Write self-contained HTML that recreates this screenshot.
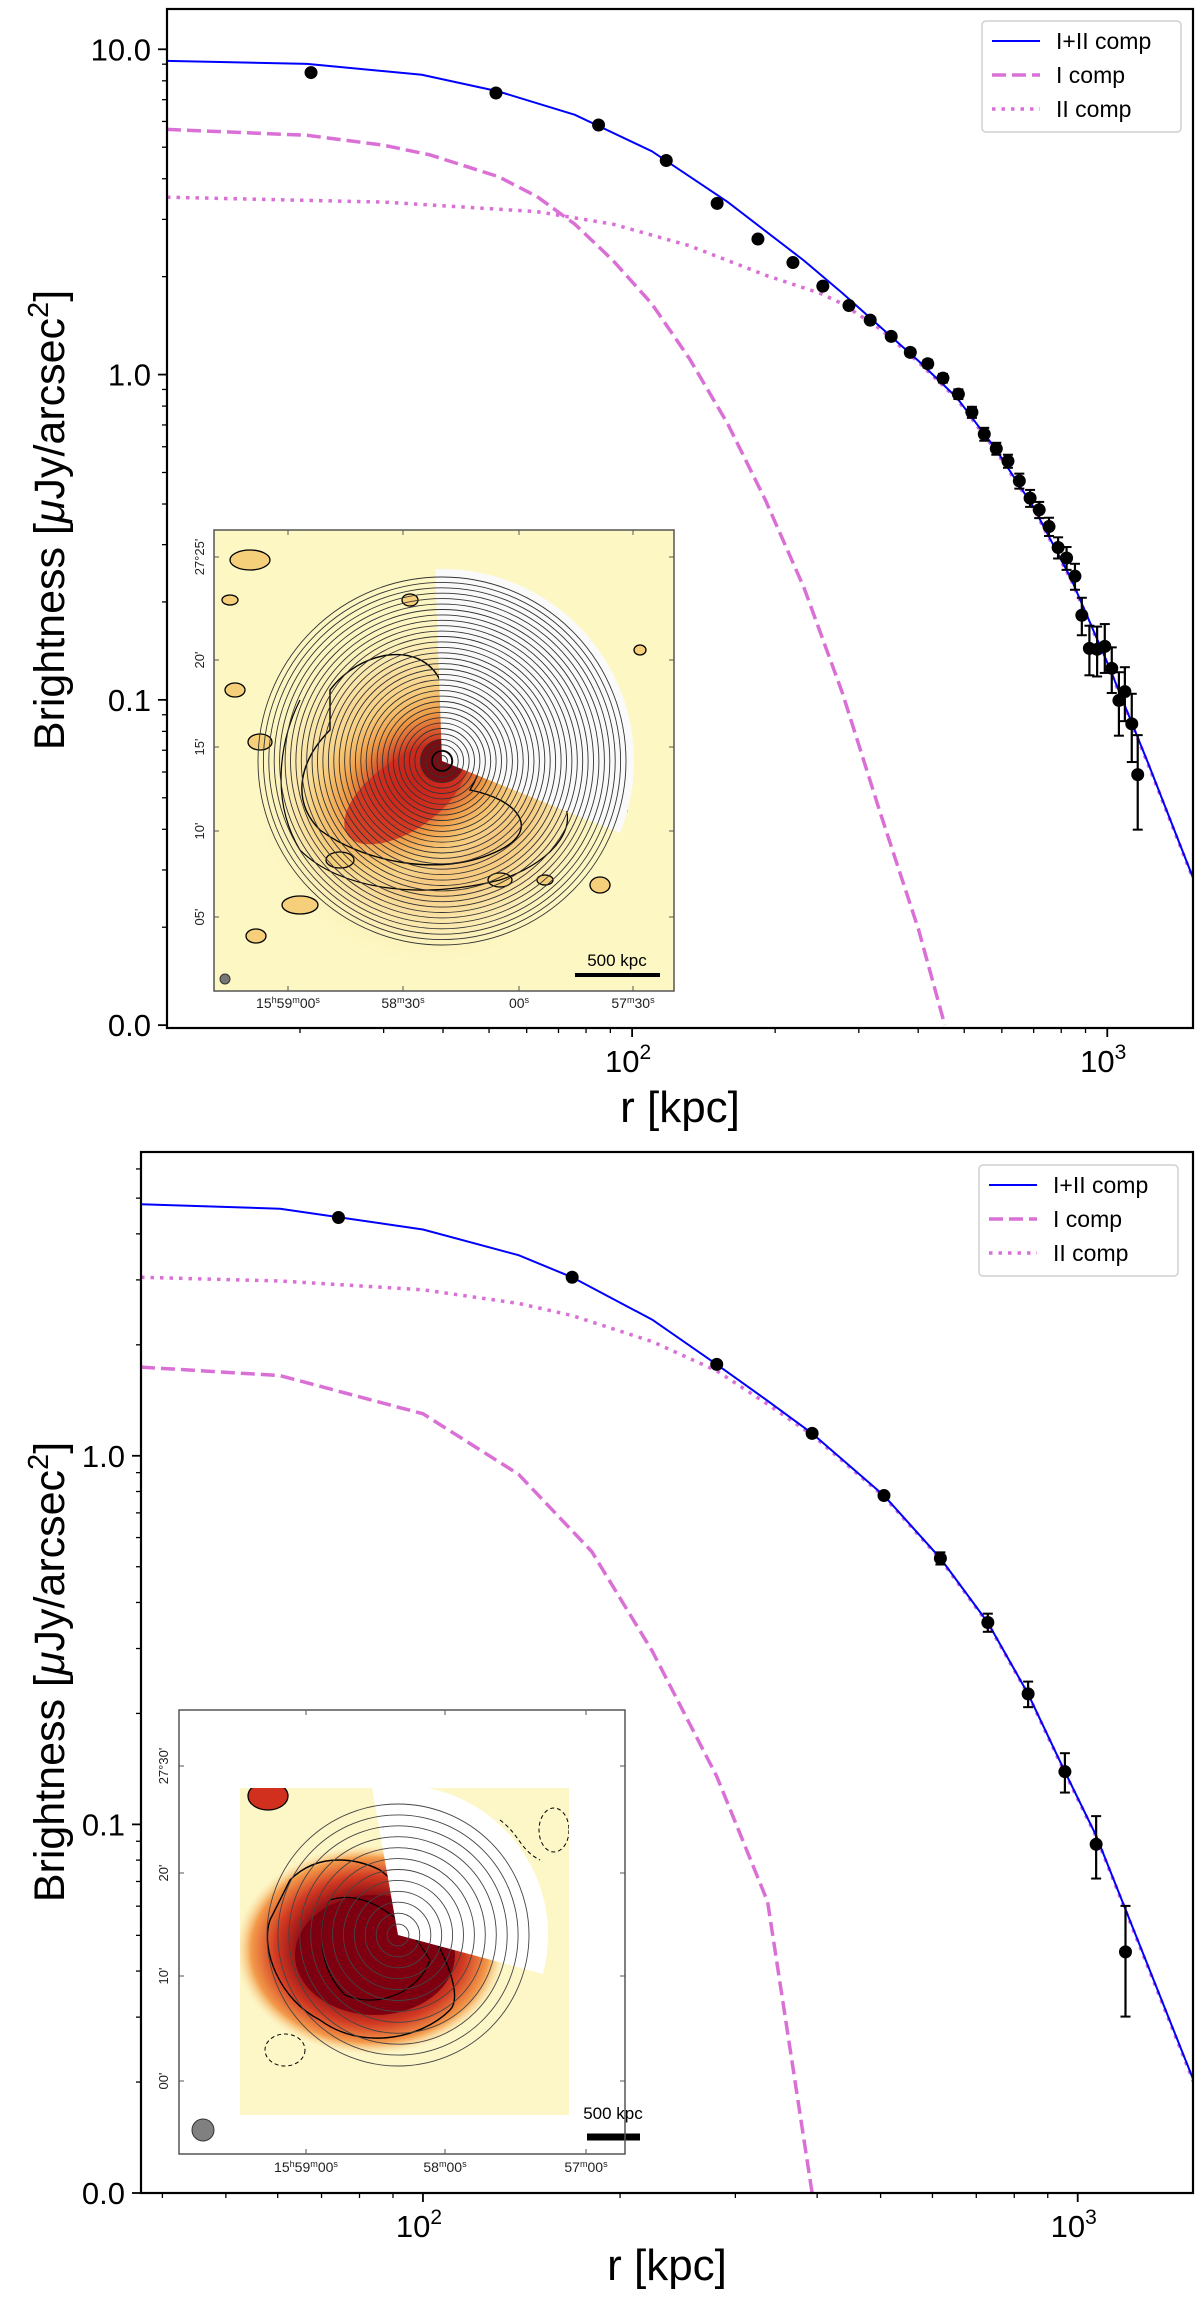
<!DOCTYPE html>
<html><head><meta charset="utf-8">
<style>
html,body{margin:0;padding:0;background:#fff;}
svg{display:block;font-family:"Liberation Sans","DejaVu Sans",sans-serif;}
</style></head>
<body>
<svg id="fig" width="1200" height="2306" viewBox="0 0 1200 2306" xmlns="http://www.w3.org/2000/svg">
<defs>
  <clipPath id="clipTop"><rect x="167" y="9" width="1026" height="1019"/></clipPath>
  <clipPath id="clipBot"><rect x="141" y="1152" width="1052" height="1041"/></clipPath>
  <clipPath id="clipInsetTop"><rect x="214" y="530" width="460" height="461"/></clipPath>
  <clipPath id="clipInsetBot"><rect x="240" y="1788" width="329" height="327"/></clipPath>
  <radialGradient id="gTop" cx="0.5" cy="0.5" r="0.5">
    <stop offset="0" stop-color="#8b0a0a"/>
    <stop offset="0.25" stop-color="#c8281c"/>
    <stop offset="0.55" stop-color="#ee9a45"/>
    <stop offset="0.8" stop-color="#f7cf7c" stop-opacity="0.7"/>
    <stop offset="1" stop-color="#fdf3bd" stop-opacity="0"/>
  </radialGradient>
  <radialGradient id="gTopWide" cx="0.5" cy="0.5" r="0.5">
    <stop offset="0" stop-color="#f0a050"/>
    <stop offset="0.6" stop-color="#f6c77a"/>
    <stop offset="1" stop-color="#fdf3bd" stop-opacity="0"/>
  </radialGradient>
  <radialGradient id="gBot" cx="0.5" cy="0.5" r="0.5">
    <stop offset="0" stop-color="#7e0010"/>
    <stop offset="0.5" stop-color="#8a0a14"/>
    <stop offset="0.7" stop-color="#d23a22"/>
    <stop offset="0.88" stop-color="#f39a4a"/>
    <stop offset="1" stop-color="#fbe0a0" stop-opacity="0"/>
  </radialGradient>
</defs>
</svg>
<script>
// ---------- TOP PANEL DATA ----------
const topPointR = [21.1,51.7,85,118,151,184,218,252,286,317,351,385,419,451,486,519,551,584,618,653,688,719,754,788,821,855,884,917,952,988,1022,1058,1089,1126,1159];
const topPointB = [8.48,7.34,5.85,4.55,3.36,2.61,2.21,1.87,1.63,1.47,1.31,1.17,1.08,0.975,0.871,0.766,0.656,0.592,0.542,0.471,0.417,0.384,0.341,0.294,0.273,0.240,0.182,0.144,0.143,0.146,0.125,0.0996,0.106,0.0844,0.0589];
const topPointErr = [0.1,0.1,0.08,0.06,0.05,0.04,0.035,0.03,0.03,0.03,0.03,0.03,0.03,0.03,0.03,0.03,0.03,0.025,0.025,0.025,0.025,0.022,0.022,0.022,0.022,0.022,0.024,0.025,0.025,0.025,0.02,0.022,0.02,0.02,0.019];
const topTotR = [10.5,20.7,36.1,52.3,75.8,110,159,230,277,333,401,482,580,698,840,1012,1218,1515];
const topTotB = [9.21,9.02,8.35,7.42,6.29,4.86,3.39,2.24,1.78,1.40,1.10,0.85,0.595,0.393,0.235,0.125,0.064,0.0284];
const topIR = [10.5,20.7,30.0,37.5,52.3,63.0,75.8,91.2,110,132,159,191,230,277,333,401,455];
const topIB = [5.67,5.44,5.07,4.74,4.06,3.53,2.90,2.24,1.65,1.12,0.705,0.410,0.221,0.105,0.0448,0.0196,0.010];
const topIIR = [10.5,30.0,63.0,91.2,132,191,248,277,333,401,482,580,698,840,1012,1218,1515];
const topIIB = [3.51,3.39,3.17,2.90,2.49,2.02,1.78,1.65,1.38,1.09,0.843,0.589,0.390,0.233,0.124,0.0635,0.0282];
const topYTicks = [10,1,0.1,0.01];
const topYTickLabels = ["10.0","1.0","0.1","0.0"];
const xTickVals = [100,1000];

// ---------- BOTTOM PANEL DATA ----------
const botPointR = [74.3,169,281,393,506,617,729,840,956,1067,1183];
const botPointB = [4.43,3.05,1.77,1.15,0.780,0.527,0.353,0.226,0.139,0.0883,0.0451];
const botPointErr = [0.03,0.03,0.02,0.015,0.015,0.02,0.02,0.018,0.017,0.017,0.015];
const botTotR = [37.1,60.5,100,140,169,224,281,336,393,506,617,729,840,956,1067,1503];
const botTotB = [4.81,4.68,4.11,3.50,3.05,2.34,1.77,1.41,1.15,0.780,0.527,0.353,0.226,0.139,0.0933,0.0202];
const botIR = [37.1,60.5,100,140,181,224,281,336,393];
const botIB = [1.74,1.65,1.30,0.891,0.550,0.295,0.135,0.0617,0.010];
const botIIR = [37.1,60.5,100,140,169,224,281,336,393,506,617,729,840,956,1067,1503];
const botIIB = [3.05,2.98,2.82,2.59,2.40,2.04,1.70,1.38,1.14,0.775,0.524,0.351,0.225,0.138,0.0928,0.0200];
const botYTicks = [1,0.1,0.01];
const botYTickLabels = ["1.0","0.1","0.0"];

const NS = "http://www.w3.org/2000/svg";
const svg = document.getElementById('fig');
function el(tag, attrs, parent){
  const e = document.createElementNS(NS, tag);
  for (const k in attrs) e.setAttribute(k, attrs[k]);
  (parent||svg).appendChild(e);
  return e;
}
function makeScale(d0,d1,p0,p1){
  const l0=Math.log10(d0), l1=Math.log10(d1);
  return v => p0 + (Math.log10(v)-l0)/(l1-l0)*(p1-p0);
}

function drawPanel(cfg){
  const g = el('g', {});
  
  
  const X = makeScale(cfg.xmin, cfg.xmax, cfg.L, cfg.R);
  const Y = makeScale(cfg.ymin, cfg.ymax, cfg.B, cfg.T);
  cfg.inset(g);
  const plot = el('g', {'clip-path':'url(#'+cfg.clip+')'}, g);
  function line(rs, bs, attrs, name){
    let d='';
    rs.forEach((r,i)=>{ d += (i?'L':'M') + X(r).toFixed(1)+','+Y(bs[i]).toFixed(1); });
    const p = el('path', Object.assign({d:d, fill:'none'}, attrs), plot);
    
    
  }
  line(cfg.IIR, cfg.IIB, {stroke:'#da70d6','stroke-width':3.5,'stroke-dasharray':'3.5,6'}, 'ii-comp-line');
  line(cfg.IR, cfg.IB, {stroke:'#da70d6','stroke-width':3.5,'stroke-dasharray':'14,6'}, 'i-comp-line');
  line(cfg.totR, cfg.totB, {stroke:'#0000ff','stroke-width':2}, 'total-comp-line');
  const pts = el('g', {}, plot);
  
  
  cfg.pR.forEach((r,i)=>{
    const x=X(r), b=cfg.pB[i], e=cfg.pE[i];
    const y1=Y(b+e), y2=Y(Math.max(b-e,1e-4));
    el('line',{x1:x,x2:x,y1:y1,y2:y2,stroke:'#000','stroke-width':2.2},pts);
    el('line',{x1:x-5,x2:x+5,y1:y1,y2:y1,stroke:'#000','stroke-width':2},pts);
    el('line',{x1:x-5,x2:x+5,y1:y2,y2:y2,stroke:'#000','stroke-width':2},pts);
    const c = el('circle',{cx:x,cy:Y(b),r:6.5,fill:'#000'},pts);
    
    
  });
  const fr = el('rect',{x:cfg.L,y:cfg.T,width:cfg.R-cfg.L,height:cfg.B-cfg.T,fill:'none',stroke:'#000','stroke-width':2.2},g);
  
  
  const ya = el('g',{},g);
  
  
  cfg.yTicks.forEach((v,i)=>{
    const y=Y(v);
    el('line',{x1:cfg.L-9,x2:cfg.L,y1:y,y2:y,stroke:'#000','stroke-width':1.8},ya);
    const t=el('text',{x:cfg.L-16,y:y+11,'text-anchor':'end','font-size':31,fill:'#000'},ya);
    t.textContent=cfg.yTickLabels[i];
    
    
  });
  for(let dec=-3; dec<=1; dec++){
    for(let m=2;m<=9;m++){
      const v=m*Math.pow(10,dec);
      if(v<=cfg.ymin||v>=cfg.ymax) continue;
      const y=Y(v);
      el('line',{x1:cfg.L-5,x2:cfg.L,y1:y,y2:y,stroke:'#000','stroke-width':1.3},ya);
    }
  }
  const xa = el('g',{},g);
  
  
  xTickVals.forEach(v=>{
    const x=X(v);
    el('line',{x1:x,x2:x,y1:cfg.B,y2:cfg.B+9,stroke:'#000','stroke-width':1.8},xa);
    const t=el('text',{x:x-4,y:cfg.B+44,'text-anchor':'middle','font-size':31,fill:'#000'},xa);
    t.textContent='10';
    const s=el('tspan',{dy:-13,'font-size':21},t);
    s.textContent=String(Math.round(Math.log10(v)));
    
    
  });
  for(let dec=1; dec<=3; dec++){
    for(let m=2;m<=9;m++){
      const v=m*Math.pow(10,dec);
      if(v<=cfg.xmin||v>=cfg.xmax) continue;
      const x=X(v);
      el('line',{x1:x,x2:x,y1:cfg.B,y2:cfg.B+5,stroke:'#000','stroke-width':1.3},xa);
    }
  }
  const xt=el('text',{x:(cfg.L+cfg.R)/2,y:cfg.xTitleY,'text-anchor':'middle','font-size':44,fill:'#000'},g);
  xt.textContent='r [kpc]';
  
  
  const cy=cfg.yTitleC;
  const yt=el('text',{x:0,y:0,'text-anchor':'middle','font-size':43,fill:'#000',transform:'translate(64,'+cy+') rotate(-90)'},g);
  yt.textContent='Brightness [';
  const mu=el('tspan',{'font-style':'italic'},yt); mu.textContent='μ';
  const r1=el('tspan',{},yt); r1.textContent='Jy/arcsec';
  const sup=el('tspan',{dy:-16,'font-size':29},yt); sup.textContent='2';
  const r2=el('tspan',{dy:16},yt); r2.textContent=']';
  
  
  const lg = el('g',{},g);
  
  
  const lx=cfg.legX, ly=cfg.legY;
  el('rect',{x:lx,y:ly,width:199,height:111,rx:4,fill:'#fff',stroke:'#d0d0d0','stroke-width':1.5},lg);
  const entries=[['I+II comp',{stroke:'#0000ff','stroke-width':2}],
                 ['I comp',{stroke:'#da70d6','stroke-width':3.5,'stroke-dasharray':'14,6'}],
                 ['II comp',{stroke:'#da70d6','stroke-width':3.5,'stroke-dasharray':'3.5,6'}]];
  entries.forEach((en,i)=>{
    const yy=ly+20+i*34;
    const eg=el('g',{},lg);
    
    
    el('line',Object.assign({x1:lx+10,x2:lx+58,y1:yy,y2:yy},en[1]),eg);
    const t=el('text',{x:lx+74,y:yy+8,'font-size':23,fill:'#000'},eg);
    t.textContent=en[0];
  });
}

function hms(parent, x, y, parts, size){
  const t=el('text',{x:x,y:y,'text-anchor':'middle','font-size':size,fill:'#222'},parent);
  parts.forEach(p=>{
    const a=el('tspan',{},t); a.textContent=p[0];
    const b=el('tspan',{'baseline-shift':'super','font-size':size*0.65},t); b.textContent=p[1];
  });
  
  
  return t;
}
function decLabel(parent,x,y,txt,size){
  const t=el('text',{x:0,y:0,'text-anchor':'middle','font-size':size,fill:'#222',transform:'translate('+x+','+y+') rotate(-90)'},parent);
  t.textContent=txt;
  
  
}
function sector(cx,cy,r,a0,a1){
  const p0=[cx+r*Math.cos(a0*Math.PI/180), cy+r*Math.sin(a0*Math.PI/180)];
  const p1=[cx+r*Math.cos(a1*Math.PI/180), cy+r*Math.sin(a1*Math.PI/180)];
  const large=(a1-a0)>180?1:0;
  return 'M'+cx+','+cy+'L'+p0[0]+','+p0[1]+'A'+r+','+r+' 0 '+large+' 1 '+p1[0]+','+p1[1]+'Z';
}

function insetTop(g){
  const ig=el('g',{},g);
  
  
  const c=el('g',{'clip-path':'url(#clipInsetTop)'},ig);
  el('rect',{x:214,y:530,width:460,height:461,fill:'#fdf7c3'},c);
  el('circle',{cx:430,cy:790,r:175,fill:'url(#gTopWide)',opacity:0.85},c);
  el('ellipse',{cx:420,cy:775,rx:150,ry:95,fill:'url(#gTop)',transform:'rotate(-35 420 775)'},c);
  el('ellipse',{cx:405,cy:795,rx:70,ry:35,fill:'#cf2a1e',opacity:0.8,transform:'rotate(-35 405 795)'},c);
  el('circle',{cx:442,cy:761,r:22,fill:'#7a0c12'},c);
  [[250,560,20,10],[235,690,10,7],[260,742,12,8],[410,600,8,6],[600,885,10,8],[256,936,10,7],[300,905,18,9],[340,860,14,8],[500,880,12,7],[640,650,6,5],[230,600,8,5],[545,880,8,5],[620,810,7,5]].forEach(b=>{
    el('ellipse',{cx:b[0],cy:b[1],rx:b[2],ry:b[3],fill:'#f6cf7a',stroke:'#000','stroke-width':1.3},c);
  });
  el('path',{d:'M330,690 C360,650 420,640 440,680 C470,700 500,740 470,790 C520,800 540,830 500,850 C440,880 360,860 320,830 C290,800 300,760 330,730 Z',fill:'none',stroke:'#000','stroke-width':1.4},c);
  el('path',{d:'M300,700 C280,740 270,800 300,850 C340,890 420,900 500,880 C560,860 580,820 560,800',fill:'none',stroke:'#000','stroke-width':1.2},c);
  el('path',{d:sector(442,761,192,-92,22),fill:'#fafafa'},c);
  for(let k=1;k<=34;k++){
    el('circle',{cx:442,cy:761,r:(184*k/34).toFixed(1),fill:'none',stroke:'#333','stroke-width':0.9},c);
  }
  el('circle',{cx:442,cy:761,r:10,fill:'none',stroke:'#000','stroke-width':1.5},c);
  el('circle',{cx:225,cy:979,r:5,fill:'#777',stroke:'#333','stroke-width':1},c);
  el('line',{x1:575,x2:660,y1:975,y2:975,stroke:'#000','stroke-width':4},c);
  const sb=el('text',{x:617,y:966,'text-anchor':'middle','font-size':17,fill:'#000'},c);
  sb.textContent='500 kpc';
  
  
  el('rect',{x:214,y:530,width:460,height:461,fill:'none',stroke:'#555','stroke-width':1.5},ig);
  [557,660,747,831,917].forEach(y=>el('line',{x1:214,x2:219,y1:y,y2:y,stroke:'#555'},ig));
  [557,660,747,831,917].forEach(y=>el('line',{x1:669,x2:674,y1:y,y2:y,stroke:'#555'},ig));
  [288,403,519,633].forEach(x=>{el('line',{x1:x,x2:x,y1:986,y2:991,stroke:'#555'},ig);el('line',{x1:x,x2:x,y1:530,y2:535,stroke:'#555'},ig);});
  decLabel(ig,204,557,"27°25'",13); decLabel(ig,204,660,"20'",13); decLabel(ig,204,747,"15'",13);
  decLabel(ig,204,831,"10'",13); decLabel(ig,204,917,"05'",13);
  hms(ig,288,1008,[['15','h'],['59','m'],['00','s']],14);
  hms(ig,403,1008,[['58','m'],['30','s']],14);
  hms(ig,519,1008,[['00','s']],14);
  hms(ig,633,1008,[['57','m'],['30','s']],14);
}

function insetBot(g){
  const ig=el('g',{},g);
  
  
  el('rect',{x:179,y:1710,width:446,height:444,fill:'#fff'},ig);
  const c=el('g',{'clip-path':'url(#clipInsetBot)'},ig);
  el('rect',{x:240,y:1788,width:329,height:327,fill:'#fdf7c8'},c);
  el('ellipse',{cx:370,cy:1950,rx:135,ry:105,fill:'url(#gBot)'},c);
  el('ellipse',{cx:375,cy:1955,rx:80,ry:60,fill:'#7e0010'},c);
  el('ellipse',{cx:268,cy:1796,rx:20,ry:14,fill:'#d2301e',stroke:'#000','stroke-width':1.3},c);
  el('path',{d:'M290,1880 C320,1850 360,1860 380,1870 C420,1900 470,1990 450,2010 C420,2040 360,2050 320,2020 C280,2000 260,1950 270,1920 Z',fill:'none',stroke:'#000','stroke-width':1.4},c);
  el('path',{d:'M330,1900 C360,1890 400,1910 430,1960 C420,1990 380,2010 345,1995 C320,1970 315,1930 330,1900 Z',fill:'none',stroke:'#000','stroke-width':1.2},c);
  el('path',{d:sector(398,1935,150,-100,15),fill:'#ffffff'},c);
  el('path',{d:'M500,1820 C520,1835 520,1850 540,1860',fill:'none',stroke:'#000','stroke-width':1,'stroke-dasharray':'4,3'},c);
  el('ellipse',{cx:285,cy:2050,rx:20,ry:16,fill:'none',stroke:'#000','stroke-width':1,'stroke-dasharray':'4,3'},c);
  el('ellipse',{cx:554,cy:1830,rx:15,ry:22,fill:'none',stroke:'#000','stroke-width':1,'stroke-dasharray':'4,3'},c);
  for(let k=1;k<=12;k++){
    el('circle',{cx:398,cy:1935,r:(131*k/12).toFixed(1),fill:'none',stroke:'#444','stroke-width':0.9},c);
  }
  el('circle',{cx:203,cy:2130,r:11,fill:'#808080',stroke:'#333','stroke-width':1},ig);
  el('line',{x1:587,x2:640,y1:2137,y2:2137,stroke:'#000','stroke-width':7},ig);
  const sb=el('text',{x:613,y:2119,'text-anchor':'middle','font-size':17,fill:'#000'},ig);
  sb.textContent='500 kpc';
  
  
  el('rect',{x:179,y:1710,width:446,height:444,fill:'none',stroke:'#555','stroke-width':1.5},ig);
  [1766,1873,1976,2081].forEach(y=>{el('line',{x1:179,x2:184,y1:y,y2:y,stroke:'#555'},ig);el('line',{x1:620,x2:625,y1:y,y2:y,stroke:'#555'},ig);});
  [306,445,586].forEach(x=>{el('line',{x1:x,x2:x,y1:2149,y2:2154,stroke:'#555'},ig);el('line',{x1:x,x2:x,y1:1710,y2:1715,stroke:'#555'},ig);});
  decLabel(ig,168,1766,"27°30'",13); decLabel(ig,168,1873,"20'",13);
  decLabel(ig,168,1976,"10'",13); decLabel(ig,168,2081,"00'",13);
  hms(ig,306,2172,[['15','h'],['59','m'],['00','s']],14);
  hms(ig,445,2172,[['58','m'],['00','s']],14);
  hms(ig,586,2172,[['57','m'],['00','s']],14);
}

drawPanel({name:'top-panel',L:167,R:1193,T:9,B:1028,xmin:10.5,xmax:1515,ymin:0.0098,ymax:13.3,
  clip:'clipTop',pR:topPointR,pB:topPointB,pE:topPointErr,totR:topTotR,totB:topTotB,IR:topIR,IB:topIB,IIR:topIIR,IIB:topIIB,
  yTicks:topYTicks,yTickLabels:topYTickLabels,xTitleY:1122,yTitleC:520,legX:982,legY:21,inset:insetTop});
drawPanel({name:'bottom-panel',L:141,R:1193,T:1152,B:2193,xmin:37.1,xmax:1500,ymin:0.01,ymax:6.67,
  clip:'clipBot',pR:botPointR,pB:botPointB,pE:botPointErr,totR:botTotR,totB:botTotB,IR:botIR,IB:botIB,IIR:botIIR,IIB:botIIB,
  yTicks:botYTicks,yTickLabels:botYTickLabels,xTitleY:2280,yTitleC:1672,legX:979,legY:1165,inset:insetBot});
</script>
</body></html>
